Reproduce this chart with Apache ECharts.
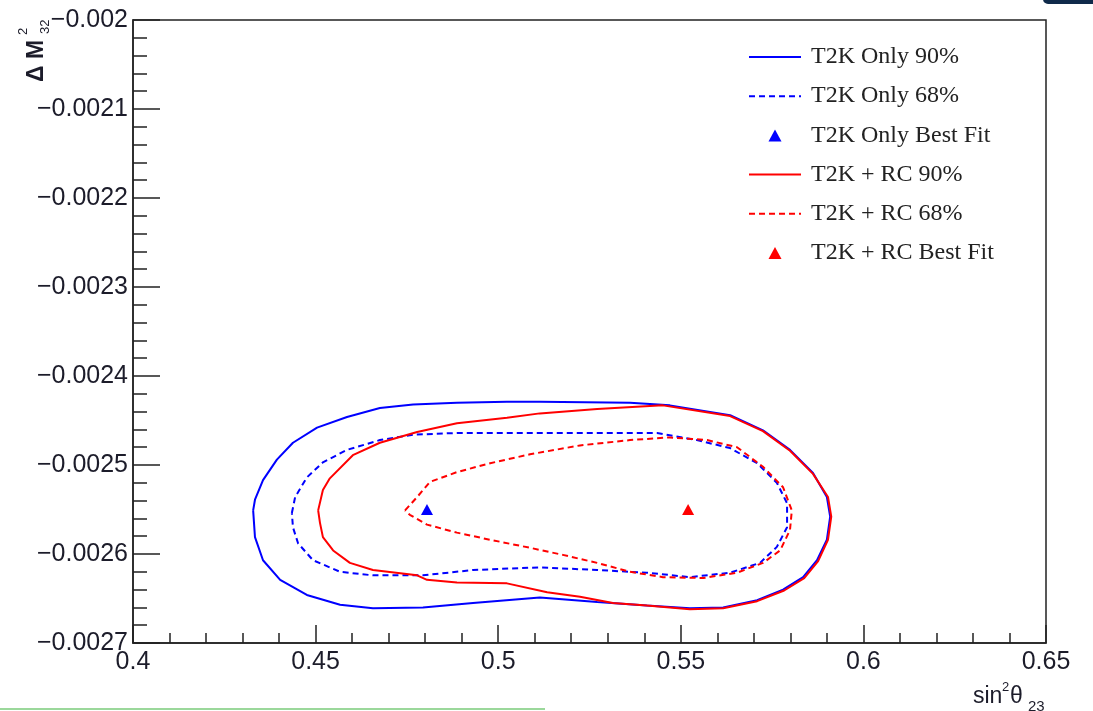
<!DOCTYPE html>
<html>
<head>
<meta charset="utf-8">
<script src="https://cdn.jsdelivr.net/npm/echarts@6/dist/echarts.min.js"></script>
<style>
  html, body { margin: 0; padding: 0; background: #fff; }
  #main { width: 1093px; height: 711px; }
</style>
</head>
<body>
<div id="main"></div>
<script>
// 轴刻度
let xTicks = [0.4, 0.45, 0.5, 0.55, 0.6, 0.65]
let yTicks = [-0.0027, -0.0026, -0.0025, -0.0024, -0.0023, -0.0022, -0.0021, -0.002]

// T2K Only 90% (sin2θ23, ΔM2_32)
let t2kOnly90 = [
  [0.4329, -0.002551], [0.4334, -0.002539], [0.4356, -0.002517], [0.4394, -0.002494],
  [0.4438, -0.002475], [0.4504, -0.002458], [0.4586, -0.002446], [0.4676, -0.002436],
  [0.4767, -0.002432], [0.4887, -0.002430], [0.5024, -0.002429], [0.5114, -0.002429],
  [0.5361, -0.002430], [0.5470, -0.002433], [0.5635, -0.002444], [0.5725, -0.002461],
  [0.5799, -0.002483], [0.5862, -0.002509], [0.5900, -0.002536], [0.5909, -0.002558],
  [0.5900, -0.002584], [0.5873, -0.002607], [0.5835, -0.002626], [0.5780, -0.002640],
  [0.5709, -0.002652], [0.5616, -0.002660], [0.5525, -0.002661], [0.5407, -0.002658],
  [0.5271, -0.002654], [0.5114, -0.002649], [0.4931, -0.002655], [0.4794, -0.002660],
  [0.4657, -0.002661], [0.4567, -0.002657], [0.4476, -0.002646], [0.4403, -0.002629],
  [0.4356, -0.002607], [0.4334, -0.002581]
]

// T2K Only 68%
let t2kOnly68 = [
  [0.4435, -0.002554], [0.4444, -0.002536], [0.4476, -0.002514], [0.4520, -0.002497],
  [0.4586, -0.002483], [0.4676, -0.002472], [0.4767, -0.002466], [0.4887, -0.002464],
  [0.5114, -0.002464], [0.5435, -0.002464], [0.5544, -0.002472], [0.5635, -0.002481],
  [0.5709, -0.002498], [0.5763, -0.002520], [0.5791, -0.002543], [0.5791, -0.002570],
  [0.5763, -0.002592], [0.5717, -0.002610], [0.5635, -0.002621], [0.5525, -0.002626],
  [0.5407, -0.002621], [0.5271, -0.002618], [0.5114, -0.002615], [0.4931, -0.002618],
  [0.4794, -0.002624], [0.4657, -0.002624], [0.4567, -0.002620], [0.4493, -0.002607],
  [0.4452, -0.002588], [0.4438, -0.002570]
]

// T2K + RC 90%
let t2kRc90 = [
  [0.4507, -0.002551], [0.4520, -0.002528], [0.4539, -0.002515], [0.4602, -0.002489],
  [0.4676, -0.002475], [0.4778, -0.002463], [0.4887, -0.002453], [0.5024, -0.002447],
  [0.5114, -0.002442], [0.5271, -0.002437], [0.5451, -0.002433], [0.5635, -0.002445],
  [0.5725, -0.002462], [0.5799, -0.002484], [0.5862, -0.002510], [0.5903, -0.002536],
  [0.5912, -0.002558], [0.5903, -0.002584], [0.5876, -0.002608], [0.5838, -0.002627],
  [0.5783, -0.002641], [0.5709, -0.002653], [0.5616, -0.002661], [0.5525, -0.002662],
  [0.5407, -0.002658], [0.5314, -0.002655], [0.5224, -0.002648], [0.5134, -0.002643],
  [0.5024, -0.002633], [0.4887, -0.002632], [0.4805, -0.002629], [0.4778, -0.002624],
  [0.4657, -0.002618], [0.4594, -0.002610], [0.4548, -0.002596], [0.4520, -0.002581],
  [0.4512, -0.002565]
]

// T2K + RC 68%
let t2kRc68 = [
  [0.4745, -0.002551], [0.4778, -0.002536], [0.4813, -0.002519], [0.4887, -0.002508],
  [0.4978, -0.002498], [0.5087, -0.002488], [0.5224, -0.002478], [0.5361, -0.002472],
  [0.5470, -0.002469], [0.5572, -0.002472], [0.5654, -0.002480], [0.5725, -0.002502],
  [0.5780, -0.002525], [0.5804, -0.002551], [0.5799, -0.002573], [0.5772, -0.002596],
  [0.5725, -0.002610], [0.5654, -0.002621], [0.5561, -0.002627], [0.5451, -0.002626],
  [0.5361, -0.002620], [0.5271, -0.002610], [0.5177, -0.002601], [0.5087, -0.002593],
  [0.4978, -0.002584], [0.4887, -0.002576], [0.4805, -0.002567], [0.4758, -0.002556]
]

// 最佳拟合点
let t2kOnlyBest = [[0.4805, -0.00255]]
let t2kRcBest = [[0.552, -0.00255]]

let names = ['T2K Only 90%', 'T2K Only 68%', 'T2K Only Best Fit',
             'T2K + RC 90%', 'T2K + RC 68%', 'T2K + RC Best Fit']

// 闭合轮廓
function closed(pts) {
  return pts.concat([pts[0]])
}

function contour(name, pts, color, dashed) {
  return {
    name: name,
    type: 'line',
    data: closed(pts),
    symbol: 'none',
    smooth: false,
    lineStyle: { color: color, width: 2, type: dashed ? [6, 4] : 'solid' },
    itemStyle: { color: color }
  }
}

function bestFit(name, pts, color) {
  return {
    name: name,
    type: 'scatter',
    data: pts,
    symbol: 'triangle',
    symbolSize: [12, 11],
    itemStyle: { color: color, opacity: 1 }
  }
}

function num(v) {
  let s = String(parseFloat(Math.abs(v).toFixed(6)))
  return v < 0 ? '\u2212' + s : s
}

// 图例: 线条不带圆点, 三角形不拉伸
let triIcon = 'path://M0,0L0,0M52,0L52,0M26,0L32.5,12L19.5,12Z'
let legendData = names.map(function (n) {
  if (n.indexOf('Best Fit') >= 0) {
    return { name: n, icon: triIcon, itemStyle: { opacity: 1 } }
  }
  return { name: n, itemStyle: { opacity: 0 } }
})

let chart = echarts.init(document.getElementById('main'), null, { renderer: 'canvas' })

let labelFont = 'Liberation Sans, Arial, sans-serif'
let txtColor = '#1c1c2a'

let option = {
  backgroundColor: '#fff',
  animation: false,
  grid: {
    left: 133, top: 20, right: 47, bottom: 68,
    show: true, borderColor: '#222', borderWidth: 1.5, backgroundColor: 'transparent'
  },
  legend: {
    orient: 'vertical',
    left: 748,
    top: 45,
    padding: 0,
    itemWidth: 52,
    itemHeight: 12,
    itemGap: 15.2,
    selectedMode: false,
    textStyle: {
      fontFamily: 'Liberation Serif, Times New Roman, serif',
      fontSize: 24,
      lineHeight: 24,
      color: '#222',
      padding: [0, 0, 0, 5]
    },
    data: legendData
  },
  xAxis: {
    type: 'value',
    min: xTicks[0],
    max: xTicks[xTicks.length - 1],
    interval: 0.05,
    splitLine: { show: false },
    axisLine: { show: true, onZero: false, lineStyle: { color: '#222', width: 1.5 } },
    axisTick: { show: true, inside: true, length: 18, lineStyle: { color: '#222', width: 1.5 } },
    minorTick: { show: true, splitNumber: 5, length: 10, lineStyle: { color: '#222', width: 1.5 } },
    axisLabel: {
      showMinLabel: true, showMaxLabel: true,
      margin: 7,
      fontFamily: labelFont, fontSize: 25, color: txtColor,
      formatter: num
    }
  },
  yAxis: {
    type: 'value',
    min: yTicks[0],
    max: yTicks[yTicks.length - 1],
    interval: 0.0001,
    splitLine: { show: false },
    axisLine: { show: true, onZero: false, lineStyle: { color: '#222', width: 1.5 } },
    axisTick: { show: true, inside: true, length: 27, lineStyle: { color: '#222', width: 1.5 } },
    minorTick: { show: true, splitNumber: 5, length: 14, lineStyle: { color: '#222', width: 1.5 } },
    axisLabel: {
      showMinLabel: true, showMaxLabel: true,
      margin: 5,
      fontFamily: labelFont, fontSize: 25, color: txtColor,
      formatter: num
    }
  },
  series: [
    contour(names[0], t2kOnly90, '#0000ff', false),
    contour(names[1], t2kOnly68, '#0000ff', true),
    bestFit(names[2], t2kOnlyBest, '#0000ff'),
    contour(names[3], t2kRc90, '#ff0000', false),
    contour(names[4], t2kRc68, '#ff0000', true),
    bestFit(names[5], t2kRcBest, '#ff0000')
  ],
  graphic: [
    // y 轴标题 ΔM²32
    {
      type: 'group',
      x: 45, y: 82,
      rotation: Math.PI / 2,
      children: [
        { type: 'text', x: 0, y: -8.5,
          style: { text: '\u0394 M', font: 'bold 23px Liberation Sans, Arial, sans-serif',
                   fill: txtColor, verticalAlign: 'middle', align: 'left' } },
        { type: 'text', x: 47, y: -21.5,
          style: { text: '2', font: '13px Liberation Sans, Arial, sans-serif',
                   fill: txtColor, verticalAlign: 'middle', align: 'left' } },
        { type: 'text', x: 48, y: 0,
          style: { text: '32', font: '13px Liberation Sans, Arial, sans-serif',
                   fill: txtColor, verticalAlign: 'middle', align: 'left' } }
      ]
    },
    // x 轴标题 sin²θ23
    { type: 'text', x: 973, y: 697,
      style: { text: 'sin', font: '23px Liberation Sans, Arial, sans-serif',
               fill: txtColor, verticalAlign: 'middle', align: 'left' } },
    { type: 'text', x: 1002, y: 687,
      style: { text: '2', font: '13px Liberation Sans, Arial, sans-serif',
               fill: txtColor, verticalAlign: 'middle', align: 'left' } },
    { type: 'text', x: 1010, y: 697,
      style: { text: '\u03b8', font: '23px Liberation Sans, Arial, sans-serif',
               fill: txtColor, verticalAlign: 'middle', align: 'left' } },
    { type: 'text', x: 1028, y: 707,
      style: { text: '23', font: '15px Liberation Sans, Arial, sans-serif',
               fill: txtColor, verticalAlign: 'middle', align: 'left' } },
    // 截图边缘
    { type: 'rect', shape: { x: 1043, y: -6, width: 60, height: 10, r: 5 },
      style: { fill: '#0f2a4a' } },
    { type: 'rect', shape: { x: 0, y: 708, width: 545, height: 2 },
      style: { fill: '#9bd89b' } }
  ]
}

chart.setOption(option)
</script>
</body>
</html>
